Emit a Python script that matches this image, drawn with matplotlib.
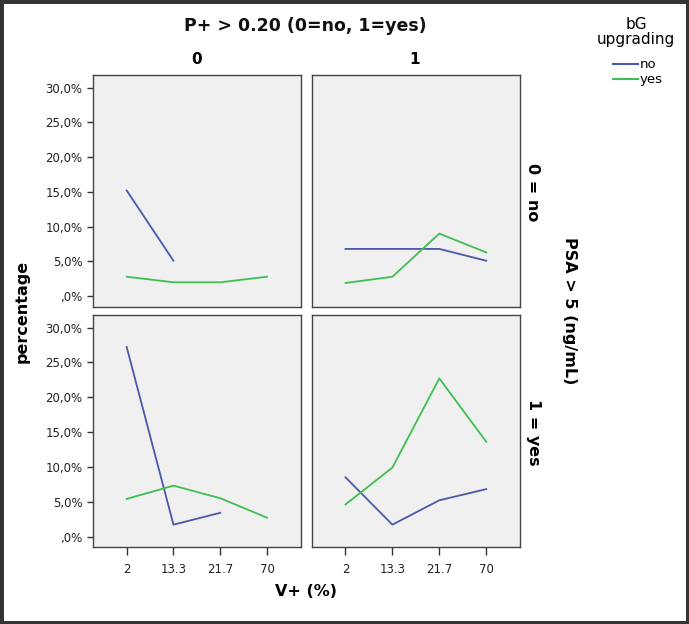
import numpy as np
import matplotlib
matplotlib.use("Agg")
import matplotlib.pyplot as plt
from matplotlib.lines import Line2D
from matplotlib.patches import Rectangle

# Datos (porcentaje)
niveles_v = ["2", "13.3", "21.7", "70"]
ticks_y = [0, 5, 10, 15, 20, 25, 30]
etiquetas_y = [",0%", "5,0%", "10,0%", "15,0%", "20,0%", "25,0%", "30,0%"]

# fila PSA 0 = no
no_p0_psa0 = [15.2, 5.1, np.nan, np.nan]
yes_p0_psa0 = [2.8, 2.0, 2.0, 2.8]
no_p1_psa0 = [6.8, 6.8, 6.8, 5.1]
yes_p1_psa0 = [1.9, 2.8, 9.0, 6.3]
# fila PSA 1 = yes
no_p0_psa1 = [27.2, 1.7, 3.4, np.nan]
yes_p0_psa1 = [5.4, 7.3, 5.5, 2.7]
no_p1_psa1 = [8.5, 1.7, 5.2, 6.8]
yes_p1_psa1 = [4.6, 9.9, 22.7, 13.6]

AZUL = "#4a5aa8"
VERDE = "#3fbf50"
W, H = 689, 624

fig = plt.figure(figsize=(W / 100, H / 100), dpi=100)
plt.rcParams["font.family"] = "DejaVu Sans"

def caja(x0, x1, ytop, ybot):
    return [x0 / W, (H - ybot) / H, (x1 - x0) / W, (ybot - ytop) / H]

paneles = [
    (caja(93, 300.7, 75, 307), no_p0_psa0, yes_p0_psa0, True, False),
    (caja(311.7, 520, 75, 307), no_p1_psa0, yes_p1_psa0, False, False),
    (caja(93, 300.7, 315, 547.3), no_p0_psa1, yes_p0_psa1, True, True),
    (caja(311.7, 520, 315, 547.3), no_p1_psa1, yes_p1_psa1, False, True),
]

x = np.arange(len(niveles_v))
for pos, serie_no, serie_yes, eje_y, eje_x in paneles:
    ax = fig.add_axes(pos)
    ax.set_facecolor("#f0f0f0")
    ax.plot(x, serie_no, color=AZUL, lw=1.3)
    ax.plot(x, serie_yes, color=VERDE, lw=1.3)
    ax.set_xlim(-0.72, 3.72)
    ax.set_ylim(-1.55, 31.8)
    for s in ax.spines.values():
        s.set_color("#444444")
        s.set_linewidth(1.0)
    ax.tick_params(direction="out", length=4, width=1, color="#333333",
                   labelsize=8.5, labelcolor="#222222")
    if eje_y:
        ax.set_yticks(ticks_y)
        ax.set_yticklabels(etiquetas_y)
    else:
        ax.set_yticks([])
    if eje_x:
        ax.set_xticks(x)
        ax.set_xticklabels(niveles_v)
        ax.tick_params(axis="x", length=6, pad=5)
    else:
        ax.set_xticks([])

def px(xp, yp):
    return xp / W, 1 - yp / H

fig.text(*px(305, 26), "P+ > 0.20 (0=no, 1=yes)", ha="center", va="center",
         fontsize=12.5, fontweight="bold", color="#111111")
fig.text(*px(197, 60), "0", ha="center", va="center", fontsize=11,
         fontweight="bold")
fig.text(*px(415, 60), "1", ha="center", va="center", fontsize=11,
         fontweight="bold")
fig.text(*px(533, 192), "0 = no", ha="center", va="center", rotation=-90,
         fontsize=11.5, fontweight="bold")
fig.text(*px(533, 432), "1 = yes", ha="center", va="center", rotation=-90,
         fontsize=11.5, fontweight="bold")
fig.text(*px(569, 311), "PSA > 5 (ng/mL)", ha="center", va="center",
         rotation=-90, fontsize=11.5, fontweight="bold")
fig.text(*px(22, 311), "percentage", ha="center", va="center", rotation=90,
         fontsize=11.5, fontweight="bold")
fig.text(*px(306, 591), "V+ (%)", ha="center", va="center", fontsize=11.5,
         fontweight="bold")

# leyenda
fig.text(*px(636, 32), "bG\nupgrading", ha="center", va="center",
         fontsize=11, linespacing=1.0)
for yy, col, lab in [(64, AZUL, "no"), (79, VERDE, "yes")]:
    fig.add_artist(Line2D([613 / W, 638 / W], [1 - yy / H, 1 - yy / H],
                          color=col, lw=1.5))
    fig.text(*px(640, yy), lab, ha="left", va="center", fontsize=9.5)

# marco exterior
fig.add_artist(Rectangle((0, 0), 1, 1, transform=fig.transFigure,
                         fill=False, edgecolor="#333333", lw=5))

fig.savefig("out.png", dpi=100)
